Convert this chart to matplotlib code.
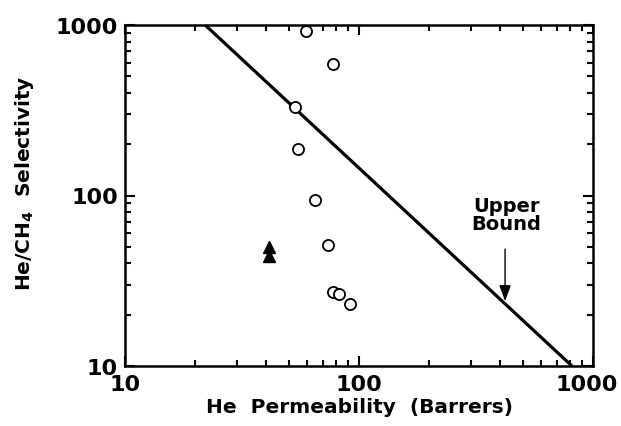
import matplotlib
matplotlib.use("Agg")
import matplotlib.pyplot as plt
import matplotlib.transforms as mtransforms
from matplotlib.ticker import LogLocator, NullFormatter, FixedLocator

plt.rcParams['font.family'] = ['DejaVu Sans']

# Membrane data: He permeability (Barrers) and He/CH4 selectivity
circle_perm = [59.4, 77.4, 53.3, 54.8, 64.9, 73.7, 77.4, 82.1, 91.5]
circle_sel = [922, 590, 330, 187, 94, 51.3, 27.2, 26.5, 23.1]
triangle_perm = [41.2, 41.2]
triangle_sel = [49.9, 44.2]

# Upper bound line end points
bound_perm = [22.0, 813]
bound_sel = [1000, 10]

# Arrow annotation for the upper bound
arrow_perm = 421
arrow_tip_sel = 24.0
arrow_tail_sel = 48.5

W, H = 621, 427
fig = plt.figure(figsize=(W / 100, H / 100), dpi=100)
ax = fig.add_axes([125 / W, 1 - 367 / H, 468 / W, 341 / H])

ax.set_xscale('log')
ax.set_yscale('log')

ax.plot(bound_perm, bound_sel, color='black', lw=2.3, solid_capstyle='butt')
ax.plot(circle_perm, circle_sel, 'o', ms=8, mfc='white', mec='black', mew=1.3)
ax.plot(triangle_perm, triangle_sel, '^', ms=8.5, color='black')

ax.annotate('', xy=(arrow_perm, arrow_tip_sel), xytext=(arrow_perm, arrow_tail_sel),
            arrowprops=dict(arrowstyle='-|>,head_length=0.6,head_width=0.22',
                            color='black', lw=1.0,
                            mutation_scale=16, shrinkA=0, shrinkB=0))
ax.text(arrow_perm * 1.015, 60, 'Upper\nBound', ha='center', va='bottom',
        fontsize=14, fontweight='bold', linespacing=0.95)

for s in ax.spines.values():
    s.set_linewidth(1.8)

ax.xaxis.set_major_locator(FixedLocator([10, 100, 1000]))
ax.yaxis.set_major_locator(FixedLocator([10, 100, 1000]))
ax.xaxis.set_minor_locator(LogLocator(base=10, subs=range(2, 10)))
ax.yaxis.set_minor_locator(LogLocator(base=10, subs=range(2, 10)))
ax.xaxis.set_minor_formatter(NullFormatter())
ax.yaxis.set_minor_formatter(NullFormatter())
ax.set_xticklabels(['10', '100', '1000'], fontweight='bold')
ax.set_yticklabels(['10', '100', '1000'], fontweight='bold')

ax.tick_params(which='both', direction='in', top=True, right=True, width=1.5)
ax.tick_params(which='major', length=7, labelsize=16)
ax.tick_params(axis='x', which='major', pad=6)
ax.tick_params(axis='y', which='major', pad=5)
ax.tick_params(which='minor', length=4)

ax.set_xlim(10, 1000)
ax.set_ylim(10, 1000)

# nudge the rightmost x tick label inward so it stays on the canvas
last = ax.xaxis.get_major_ticks()[-1].label1
last.set_transform(last.get_transform()
                   + mtransforms.ScaledTranslation(-6 / 100, 0, fig.dpi_scale_trans))

ax.set_xlabel('He  Permeability  (Barrers)', fontsize=14.5, fontweight='bold', labelpad=2)
ax.set_ylabel('He/CH$_\\mathbf{4}$  Selectivity', fontsize=14.5, fontweight='bold')
ax.yaxis.set_label_coords(-0.19, 0.54)

fig.savefig('out.png', dpi=100)
